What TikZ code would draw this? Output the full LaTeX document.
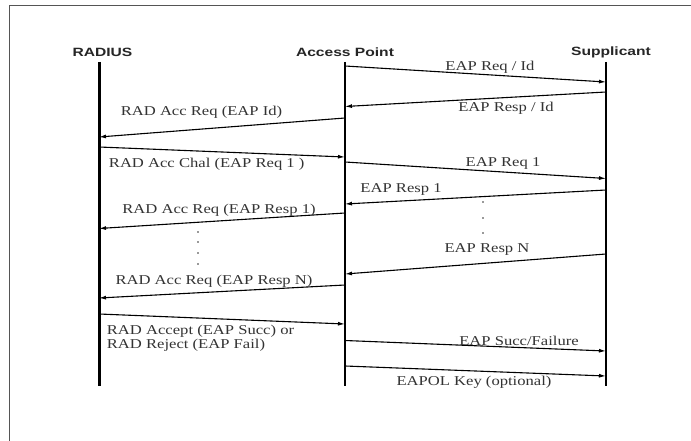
\documentclass[tikz,border=0pt]{standalone}
\usepackage{fontspec}
\usepackage{graphicx}
\setmainfont{Liberation Serif}
\newfontfamily\hdrfont{Liberation Sans}
\usetikzlibrary{arrows.meta}
\newcommand{\wideL}[1]{\scalebox{1.23}[1]{#1}}
\newcommand{\wideH}[1]{\scalebox{1.3}[1]{#1}}
\definecolor{labelgray}{HTML}{333333}
\definecolor{framegray}{HTML}{555555}
\begin{document}
\begin{tikzpicture}[x=1pt,y=-1pt,
  hdr/.style={font=\hdrfont\bfseries\fontsize{12}{14}\selectfont, text=black!85, inner sep=0pt},
  lbl/.style={font=\fontsize{13.5}{13.3}\selectfont, text=labelgray, inner sep=0pt},
  lifeline/.style={line width=1.3pt},
  radline/.style={line width=3pt},
  msg/.style={line width=1.1pt, -{Latex[length=7pt,width=4pt]}},
  dotmark/.style={circle, fill=labelgray, inner sep=0pt, minimum size=1.6pt},
  frameline/.style={framegray, line width=1pt}]
\useasboundingbox (0,0) rectangle (691,441);
\fill[white] (0,0) rectangle (691,441);
% frame
\draw[frameline] (9.3,441) -- (9.3,6) -- (691,6);
% headers
\node[hdr] (hRad) at (102.5,52.7) {\wideH{RADIUS}};
\node[hdr] (hAP) at (345,52.7) {\wideH{Access Point}};
\node[hdr] (hSup) at (611,52.7) {\wideH{Supplicant}};
% lifelines
\coordinate (radT) at (99,62);
\coordinate (radB) at (99,386);
\coordinate (apT) at (345,62);
\coordinate (apB) at (345,386);
\coordinate (supT) at (606,62);
\coordinate (supB) at (606,386);
\draw[radline] (radT) -- (radB);
\draw[lifeline] (apT) -- (apB);
\draw[lifeline] (supT) -- (supB);
% message endpoints
\coordinate (m1a) at (345,66);    \coordinate (m1b) at (606,82);
\coordinate (m2a) at (606,92);    \coordinate (m2b) at (345,106.5);
\coordinate (m3a) at (345,118);   \coordinate (m3b) at (99,137);
\coordinate (m4a) at (99,147);    \coordinate (m4b) at (345,157);
\coordinate (m5a) at (345,162);   \coordinate (m5b) at (606,178.5);
\coordinate (m6a) at (606,190);   \coordinate (m6b) at (345,204);
\coordinate (m7a) at (345,213);   \coordinate (m7b) at (99,228.5);
\coordinate (m8a) at (606,254);   \coordinate (m8b) at (345,274);
\coordinate (m9a) at (345,285);   \coordinate (m9b) at (99,298);
\coordinate (m10a) at (99,314);   \coordinate (m10b) at (345,324);
\coordinate (m11a) at (345,340.5);\coordinate (m11b) at (606,351);
\coordinate (m12a) at (345,366);  \coordinate (m12b) at (606,376);
\foreach \i in {1,...,12} {\draw[msg] (m\i a) -- (m\i b);}
% labels
\node[lbl] (l1) at (490,67) {\wideL{EAP Req / Id}};
\node[lbl] (l2) at (506,108) {\wideL{EAP Resp / Id}};
\node[lbl] (l3) at (201.5,112.7) {\wideL{RAD Acc Req (EAP Id)}};
\node[lbl] (l4) at (206.7,164) {\wideL{RAD Acc Chal (EAP Req 1 )}};
\node[lbl] (l5) at (503,163) {\wideL{EAP Req 1}};
\node[lbl] (l6) at (401,189.5) {\wideL{EAP Resp 1}};
\node[lbl] (l7) at (219,210) {\wideL{RAD Acc Req (EAP Resp 1)}};
\node[lbl] (l8) at (487,249) {\wideL{EAP Resp N}};
\node[lbl] (l9) at (214,281) {\wideL{RAD Acc Req (EAP Resp N)}};
\node[lbl, anchor=west, align=left] (l10) at (106.7,338.4) {\wideL{RAD Accept (EAP Succ) or}\\\wideL{RAD Reject (EAP Fail)}};
\node[lbl] (l11) at (519,340.5) {\wideL{EAP Succ/Failure}};
\node[lbl] (l12) at (474,382.7) {\wideL{EAPOL Key (optional)}};
% continuation dots
\foreach \y [count=\k] in {232,242,253,264} {\node[dotmark] (dl\k) at (198,\y) {};}
\foreach \y [count=\k] in {202,218,233} {\node[dotmark] (dr\k) at (483,\y) {};}
\end{tikzpicture}
\end{document}
